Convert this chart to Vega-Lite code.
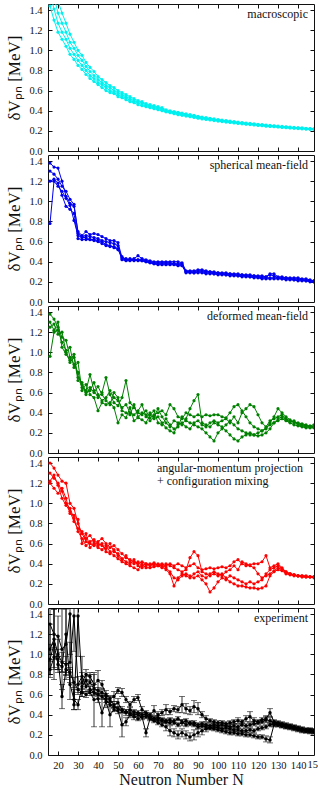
{
"$schema":"https://vega.github.io/schema/vega-lite/v6.json",
"background":"white",
"padding":{"left":5,"top":3,"right":0,"bottom":0},
"spacing":4,
"bounds":"flush",
"config":{"view":{"stroke":"#111","strokeWidth":1},"axis":{"grid":false,"domain":false,"tickSize":-4,"tickColor":"#111","labelColor":"#111","titleColor":"#111","labelFont":"Liberation Serif","titleFont":"Liberation Serif","labelFontSize":10.5,"titleFontSize":17,"titleFontWeight":"normal","labelFlush":false},"text":{"font":"Liberation Serif"}},
"datasets":{
"m":[
{"N":16,"c":1.58,"d":1.44},{"N":18,"b":1.53,"c":1.41,"d":1.30},{"N":20,"a":1.49,"b":1.37,"c":1.27,"d":1.18},{"N":22,"a":1.37,"b":1.27,"c":1.18,"d":1.11},{"N":24,"a":1.27,"b":1.18,"c":1.11,"d":1.04},{"N":26,"a":1.16,"b":1.08,"c":1.02,"d":0.96},{"N":28,"a":1.08,"b":1.02,"c":0.96,"d":0.91},{"N":30,"a":1.00,"b":0.95,"c":0.90,"d":0.85},{"N":32,"a":0.95,"b":0.90,"c":0.85,"d":0.81},{"N":34,"a":0.88,"b":0.84,"c":0.80,"d":0.76},{"N":36,"a":0.83,"b":0.79,"c":0.75,"d":0.72},{"N":38,"a":0.79,"b":0.75,"c":0.72,"d":0.69},{"N":40,"a":0.74,"b":0.71,"c":0.68,"d":0.66},{"N":42,"a":0.71,"b":0.68,"c":0.66,"d":0.63},{"N":44,"a":0.68,"b":0.65,"c":0.63,"d":0.60},{"N":46,"a":0.65,"b":0.63,"c":0.60,"d":0.58},{"N":48,"a":0.63,"b":0.60,"c":0.58,"d":0.57},{"N":50,"a":0.60,"b":0.58,"c":0.56,"d":0.54},{"N":52,"a":0.58,"b":0.56,"c":0.54,"d":0.53},{"N":54,"a":0.56,"b":0.54,"c":0.53,"d":0.51},{"N":56,"a":0.54,"b":0.52,"c":0.50,"d":0.49},{"N":58,"a":0.52,"b":0.50,"c":0.49,"d":0.48},{"N":60,"a":0.50,"b":0.49,"c":0.48,"d":0.46},{"N":62,"a":0.49,"b":0.48,"c":0.46,"d":0.45},{"N":64,"a":0.47,"b":0.46,"c":0.45,"d":0.44},{"N":66,"a":0.46,"b":0.45,"c":0.44,"d":0.43},{"N":68,"a":0.45,"b":0.44,"c":0.43,"d":0.42},{"N":70,"a":0.44,"b":0.43,"c":0.42,"d":0.41},{"N":72,"a":0.43,"b":0.42,"c":0.41,"d":0.40},{"N":74,"a":0.41,"b":0.40,"c":0.39,"d":0.39},{"N":76,"a":0.40,"b":0.39,"c":0.39,"d":0.38},{"N":78,"a":0.39,"b":0.39,"c":0.38,"d":0.37},{"N":80,"a":0.385,"b":0.377,"c":0.369,"d":0.361},{"N":82,"a":0.377,"b":0.369,"c":0.361,"d":0.354},{"N":84,"a":0.369,"b":0.361,"c":0.354,"d":0.347},{"N":86,"a":0.361,"b":0.354,"c":0.347,"d":0.340},{"N":88,"a":0.354,"b":0.347,"c":0.340,"d":0.333},{"N":90,"a":0.344,"b":0.338,"c":0.331,"d":0.325},{"N":92,"a":0.338,"b":0.331,"c":0.325,"d":0.319},{"N":94,"a":0.331,"b":0.325,"c":0.319,"d":0.313},{"N":96,"a":0.325,"b":0.319,"c":0.313,"d":0.308},{"N":98,"a":0.319,"b":0.313,"c":0.308,"d":0.302},{"N":100,"a":0.313,"b":0.308,"c":0.302,"d":0.297},{"N":102,"a":0.308,"b":0.302,"c":0.297,"d":0.292},{"N":104,"a":0.302,"b":0.297,"c":0.292,"d":0.287},{"N":106,"a":0.297,"b":0.292,"c":0.287,"d":0.283},{"N":108,"a":0.292,"b":0.287,"c":0.283,"d":0.278},{"N":110,"a":0.287,"b":0.283,"c":0.278,"d":0.274},{"N":112,"a":0.283,"b":0.278,"c":0.274,"d":0.270},{"N":114,"a":0.278,"b":0.274,"c":0.270,"d":0.266},{"N":116,"a":0.274,"b":0.270,"c":0.266,"d":0.262},{"N":118,"a":0.270,"b":0.266,"c":0.262,"d":0.258},{"N":120,"a":0.266,"b":0.262,"c":0.258,"d":0.254},{"N":122,"a":0.262,"b":0.258,"c":0.254,"d":0.251},{"N":124,"a":0.258,"b":0.254,"c":0.251,"d":0.247},{"N":126,"a":0.254,"b":0.251,"c":0.247,"d":0.244},{"N":128,"a":0.251,"b":0.247,"c":0.244,"d":0.241},{"N":130,"a":0.247,"b":0.244,"c":0.241,"d":0.238},{"N":132,"a":0.244,"b":0.241,"c":0.238,"d":0.234},{"N":134,"a":0.241,"b":0.238,"c":0.234,"d":0.231},{"N":136,"a":0.238,"b":0.234,"c":0.231,"d":0.229},{"N":138,"a":0.234,"b":0.231,"c":0.229,"d":0.226},{"N":140,"a":0.231,"b":0.229,"c":0.226,"d":0.223},{"N":142,"a":0.229,"b":0.226,"c":0.223,"d":0.220},{"N":144,"a":0.226,"b":0.223,"c":0.220,"d":0.218},{"N":146,"a":0.223,"b":0.220,"c":0.218,"d":0.215},{"N":148,"a":0.220,"b":0.218,"c":0.215,"d":0.213}
],
"s":[
{"N":16,"a":1.38,"b":1.30,"c":1.20,"d":0.78},{"N":18,"a":1.34,"b":1.27,"c":1.22,"d":1.20},{"N":20,"a":1.33,"b":1.22,"c":1.18,"d":1.15},{"N":22,"a":1.20,"b":1.15,"c":1.06,"d":1.10},{"N":24,"a":1.05,"b":1.10,"c":0.95,"d":1.03},{"N":26,"a":0.98,"b":1.02,"c":0.92,"d":0.96},{"N":28,"a":0.95,"b":0.97,"c":0.88,"d":0.81},{"N":30,"a":0.70,"b":0.68,"c":0.63,"d":0.66},{"N":32,"a":0.66,"b":0.65,"c":0.62,"d":0.64},{"N":34,"a":0.70,"b":0.66,"c":0.62,"d":0.64},{"N":36,"a":0.67,"b":0.65,"c":0.62,"d":0.62},{"N":38,"a":0.68,"b":0.64,"c":0.61,"d":0.62},{"N":40,"a":0.67,"b":0.63,"c":0.60,"d":0.61},{"N":42,"a":0.65,"b":0.61,"c":0.58,"d":0.60},{"N":44,"a":0.63,"b":0.60,"c":0.56,"d":0.57},{"N":46,"a":0.61,"b":0.59,"c":0.55,"d":0.56},{"N":48,"a":0.61,"b":0.58,"c":0.55,"d":0.54},{"N":50,"a":0.59,"b":0.56,"c":0.53,"d":0.52},{"N":52,"a":0.44,"b":0.43,"c":0.42,"d":0.45},{"N":54,"a":0.43,"b":0.42,"c":0.41,"d":0.42},{"N":56,"a":0.42,"b":0.43,"c":0.41,"d":0.42},{"N":58,"a":0.43,"b":0.42,"c":0.42,"d":0.41},{"N":60,"a":0.46,"b":0.42,"c":0.41,"d":0.42},{"N":62,"a":0.43,"b":0.42,"c":0.41,"d":0.41},{"N":64,"a":0.42,"b":0.41,"c":0.40,"d":0.40},{"N":66,"a":0.41,"b":0.40,"c":0.39,"d":0.39},{"N":68,"a":0.40,"b":0.39,"c":0.38,"d":0.38},{"N":70,"a":0.40,"b":0.39,"c":0.38,"d":0.37},{"N":72,"a":0.40,"b":0.39,"c":0.38,"d":0.37},{"N":74,"a":0.40,"b":0.39,"c":0.38,"d":0.37},{"N":76,"a":0.40,"b":0.39,"c":0.38,"d":0.37},{"N":78,"a":0.40,"b":0.38,"c":0.38,"d":0.37},{"N":80,"a":0.40,"b":0.38,"c":0.37,"d":0.36},{"N":82,"a":0.39,"b":0.38,"c":0.37,"d":0.36},{"N":84,"a":0.31,"b":0.30,"c":0.30,"d":0.29},{"N":86,"a":0.31,"b":0.30,"c":0.30,"d":0.29},{"N":88,"a":0.31,"b":0.30,"c":0.29,"d":0.29},{"N":90,"a":0.32,"b":0.31,"c":0.30,"d":0.29},{"N":92,"a":0.32,"b":0.31,"c":0.30,"d":0.29},{"N":94,"a":0.31,"b":0.30,"c":0.29,"d":0.28},{"N":96,"a":0.30,"b":0.30,"c":0.29,"d":0.28},{"N":98,"a":0.30,"b":0.29,"c":0.28,"d":0.28},{"N":100,"a":0.29,"b":0.29,"c":0.28,"d":0.27},{"N":102,"a":0.29,"b":0.28,"c":0.28,"d":0.27},{"N":104,"a":0.29,"b":0.28,"c":0.27,"d":0.27},{"N":106,"a":0.28,"b":0.28,"c":0.27,"d":0.26},{"N":108,"a":0.28,"b":0.27,"c":0.27,"d":0.26},{"N":110,"a":0.28,"b":0.27,"c":0.26,"d":0.26},{"N":112,"a":0.27,"b":0.27,"c":0.26,"d":0.25},{"N":114,"a":0.27,"b":0.26,"c":0.26,"d":0.25},{"N":116,"a":0.27,"b":0.26,"c":0.25,"d":0.25},{"N":118,"a":0.26,"b":0.26,"c":0.25,"d":0.24},{"N":120,"a":0.26,"b":0.25,"c":0.25,"d":0.24},{"N":122,"a":0.26,"b":0.25,"c":0.24,"d":0.23},{"N":124,"a":0.25,"b":0.25,"c":0.24,"d":0.23},{"N":126,"a":0.28,"b":0.27,"c":0.24,"d":0.23},{"N":128,"a":0.28,"b":0.26,"c":0.24,"d":0.23},{"N":130,"a":0.25,"b":0.24,"c":0.24,"d":0.23},{"N":132,"a":0.25,"b":0.24,"c":0.23,"d":0.23},{"N":134,"a":0.24,"b":0.24,"c":0.23,"d":0.22},{"N":136,"a":0.24,"b":0.23,"c":0.23,"d":0.22},{"N":138,"a":0.24,"b":0.23,"c":0.22,"d":0.22},{"N":140,"a":0.24,"b":0.23,"c":0.22,"d":0.21},{"N":142,"a":0.23,"b":0.22,"c":0.22,"d":0.21},{"N":144,"a":0.23,"b":0.22,"c":0.21,"d":0.21},{"N":146,"a":0.22,"b":0.21,"c":0.21,"d":0.20},{"N":148,"a":0.21,"b":0.21,"c":0.20,"d":0.20}
],
"g":[
{"N":16,"a":1.38,"b":1.30,"c":1.25,"d":0.96},{"N":18,"a":1.33,"b":1.22,"c":1.28,"d":1.20},{"N":20,"a":1.25,"b":1.30,"c":1.18,"d":1.22},{"N":22,"a":1.15,"b":1.05,"c":1.20,"d":1.10},{"N":24,"a":1.12,"b":0.98,"c":1.00,"d":1.02},{"N":26,"a":0.95,"b":0.92,"c":1.05,"d":0.90},{"N":28,"a":0.88,"b":0.98,"c":0.85,"d":0.95},{"N":30,"a":0.80,"b":0.75,"c":0.90,"d":0.72},{"N":32,"a":0.65,"b":0.70,"c":0.62,"d":0.68},{"N":34,"a":0.62,"b":0.60,"c":0.68,"d":0.58},{"N":36,"a":0.78,"b":0.62,"c":0.58,"d":0.65},{"N":38,"a":0.62,"b":0.70,"c":0.55,"d":0.60},{"N":40,"a":0.55,"b":0.58,"c":0.42,"d":0.66},{"N":42,"a":0.60,"b":0.52,"c":0.50,"d":0.58},{"N":44,"a":0.75,"b":0.55,"c":0.48,"d":0.52},{"N":46,"a":0.58,"b":0.62,"c":0.50,"d":0.48},{"N":48,"a":0.50,"b":0.55,"c":0.45,"d":0.60},{"N":50,"a":0.47,"b":0.52,"c":0.30,"d":0.55},{"N":52,"a":0.55,"b":0.45,"c":0.38,"d":0.42},{"N":54,"a":0.72,"b":0.48,"c":0.35,"d":0.40},{"N":56,"a":0.50,"b":0.40,"c":0.45,"d":0.38},{"N":58,"a":0.45,"b":0.38,"c":0.32,"d":0.48},{"N":60,"a":0.40,"b":0.42,"c":0.35,"d":0.36},{"N":62,"a":0.38,"b":0.48,"c":0.33,"d":0.40},{"N":64,"a":0.42,"b":0.36,"c":0.30,"d":0.38},{"N":66,"a":0.35,"b":0.40,"c":0.38,"d":0.32},{"N":68,"a":0.38,"b":0.34,"c":0.42,"d":0.36},{"N":70,"a":0.40,"b":0.36,"c":0.30,"d":0.44},{"N":72,"a":0.42,"b":0.30,"c":0.28,"d":0.36},{"N":74,"a":0.38,"b":0.25,"c":0.34,"d":0.30},{"N":76,"a":0.48,"b":0.22,"c":0.28,"d":0.26},{"N":78,"a":0.44,"b":0.20,"c":0.24,"d":0.32},{"N":80,"a":0.36,"b":0.28,"c":0.26,"d":0.30},{"N":82,"a":0.34,"b":0.30,"c":0.36,"d":0.28},{"N":84,"a":0.40,"b":0.26,"c":0.32,"d":0.34},{"N":86,"a":0.38,"b":0.24,"c":0.30,"d":0.44},{"N":88,"a":0.36,"b":0.30,"c":0.28,"d":0.52},{"N":90,"a":0.38,"b":0.32,"c":0.26,"d":0.58},{"N":92,"a":0.36,"b":0.28,"c":0.24,"d":0.30},{"N":94,"a":0.38,"b":0.26,"c":0.20,"d":0.28},{"N":96,"a":0.37,"b":0.30,"c":0.16,"d":0.26},{"N":98,"a":0.38,"b":0.32,"c":0.12,"d":0.30},{"N":100,"a":0.38,"b":0.30,"c":0.20,"d":0.28},{"N":102,"a":0.36,"b":0.32,"c":0.24,"d":0.26},{"N":104,"a":0.35,"b":0.34,"c":0.28,"d":0.22},{"N":106,"a":0.40,"b":0.30,"c":0.32,"d":0.18},{"N":108,"a":0.46,"b":0.36,"c":0.28,"d":0.14},{"N":110,"a":0.48,"b":0.30,"c":0.24,"d":0.12},{"N":112,"a":0.42,"b":0.40,"c":0.22,"d":0.16},{"N":114,"a":0.36,"b":0.44,"c":0.20,"d":0.18},{"N":116,"a":0.30,"b":0.48,"c":0.18,"d":0.20},{"N":118,"a":0.26,"b":0.46,"c":0.18,"d":0.18},{"N":120,"a":0.24,"b":0.38,"c":0.20,"d":0.17},{"N":122,"a":0.22,"b":0.30,"c":0.22,"d":0.18},{"N":124,"a":0.24,"b":0.26,"c":0.25,"d":0.20},{"N":126,"a":0.30,"b":0.32,"c":0.28,"d":0.24},{"N":128,"a":0.36,"b":0.34,"c":0.30,"d":0.30},{"N":130,"a":0.44,"b":0.36,"c":0.32,"d":0.34},{"N":132,"a":0.40,"b":0.38,"c":0.34,"d":0.36},{"N":134,"a":0.36,"b":0.34,"c":0.32,"d":0.33},{"N":136,"a":0.33,"b":0.32,"c":0.30,"d":0.31},{"N":138,"a":0.30,"b":0.31,"c":0.28,"d":0.32},{"N":140,"a":0.29,"b":0.30,"c":0.27,"d":0.28},{"N":142,"a":0.28,"b":0.29,"c":0.26,"d":0.27},{"N":144,"a":0.27,"b":0.28,"c":0.25,"d":0.26},{"N":146,"a":0.27,"b":0.26,"c":0.25,"d":0.26},{"N":148,"a":0.28,"b":0.26,"c":0.25,"d":0.26}
],
"r":[
{"N":16,"a":1.40,"b":1.30,"c":1.20,"d":1.22},{"N":18,"a":1.35,"b":1.25,"c":1.15,"d":1.28},{"N":20,"a":1.28,"b":1.20,"c":1.10,"d":1.18},{"N":22,"a":1.22,"b":1.12,"c":1.15,"d":1.05},{"N":24,"a":1.20,"b":1.00,"c":1.05,"d":0.98},{"N":26,"a":1.00,"b":0.95,"c":0.90,"d":0.92},{"N":28,"a":0.95,"b":0.85,"c":0.88,"d":0.82},{"N":30,"a":0.80,"b":0.72,"c":0.84,"d":0.75},{"N":32,"a":0.70,"b":0.65,"c":0.60,"d":0.72},{"N":34,"a":0.62,"b":0.58,"c":0.70,"d":0.65},{"N":36,"a":0.60,"b":0.62,"c":0.56,"d":0.68},{"N":38,"a":0.58,"b":0.64,"c":0.60,"d":0.62},{"N":40,"a":0.62,"b":0.60,"c":0.56,"d":0.58},{"N":42,"a":0.65,"b":0.58,"c":0.54,"d":0.60},{"N":44,"a":0.60,"b":0.55,"c":0.58,"d":0.52},{"N":46,"a":0.56,"b":0.60,"c":0.52,"d":0.50},{"N":48,"a":0.58,"b":0.52,"c":0.48,"d":0.54},{"N":50,"a":0.54,"b":0.50,"c":0.45,"d":0.48},{"N":52,"a":0.50,"b":0.45,"c":0.42,"d":0.44},{"N":54,"a":0.46,"b":0.42,"c":0.40,"d":0.48},{"N":56,"a":0.44,"b":0.40,"c":0.38,"d":0.42},{"N":58,"a":0.42,"b":0.44,"c":0.36,"d":0.40},{"N":60,"a":0.40,"b":0.38,"c":0.34,"d":0.42},{"N":62,"a":0.42,"b":0.36,"c":0.40,"d":0.38},{"N":64,"a":0.40,"b":0.38,"c":0.36,"d":0.40},{"N":66,"a":0.38,"b":0.40,"c":0.36,"d":0.39},{"N":68,"a":0.40,"b":0.38,"c":0.37,"d":0.41},{"N":70,"a":0.39,"b":0.40,"c":0.38,"d":0.38},{"N":72,"a":0.40,"b":0.37,"c":0.39,"d":0.36},{"N":74,"a":0.38,"b":0.34,"c":0.36,"d":0.40},{"N":76,"a":0.40,"b":0.30,"c":0.32,"d":0.38},{"N":78,"a":0.38,"b":0.18,"c":0.26,"d":0.36},{"N":80,"a":0.40,"b":0.26,"c":0.24,"d":0.34},{"N":82,"a":0.38,"b":0.30,"c":0.28,"d":0.32},{"N":84,"a":0.36,"b":0.28,"c":0.30,"d":0.34},{"N":86,"a":0.38,"b":0.26,"c":0.28,"d":0.46},{"N":88,"a":0.40,"b":0.30,"c":0.26,"d":0.52},{"N":90,"a":0.36,"b":0.32,"c":0.28,"d":0.48},{"N":92,"a":0.34,"b":0.28,"c":0.24,"d":0.32},{"N":94,"a":0.35,"b":0.26,"c":0.20,"d":0.30},{"N":96,"a":0.36,"b":0.30,"c":0.12,"d":0.28},{"N":98,"a":0.35,"b":0.32,"c":0.16,"d":0.30},{"N":100,"a":0.36,"b":0.30,"c":0.22,"d":0.28},{"N":102,"a":0.37,"b":0.28,"c":0.26,"d":0.30},{"N":104,"a":0.36,"b":0.32,"c":0.24,"d":0.26},{"N":106,"a":0.38,"b":0.34,"c":0.28,"d":0.22},{"N":108,"a":0.42,"b":0.38,"c":0.26,"d":0.20},{"N":110,"a":0.44,"b":0.34,"c":0.24,"d":0.18},{"N":112,"a":0.40,"b":0.42,"c":0.22,"d":0.18},{"N":114,"a":0.38,"b":0.40,"c":0.20,"d":0.17},{"N":116,"a":0.39,"b":0.38,"c":0.22,"d":0.16},{"N":118,"a":0.40,"b":0.36,"c":0.20,"d":0.16},{"N":120,"a":0.40,"b":0.30,"c":0.22,"d":0.15},{"N":122,"a":0.42,"b":0.26,"c":0.24,"d":0.16},{"N":124,"a":0.48,"b":0.28,"c":0.30,"d":0.18},{"N":126,"a":0.36,"b":0.30,"c":0.34,"d":0.28},{"N":128,"a":0.38,"b":0.33,"c":0.36,"d":0.32},{"N":130,"a":0.40,"b":0.36,"c":0.38,"d":0.34},{"N":132,"a":0.36,"b":0.34,"c":0.35,"d":0.33},{"N":134,"a":0.32,"b":0.31,"c":0.32,"d":0.30},{"N":136,"a":0.30,"b":0.30,"c":0.30,"d":0.29},{"N":138,"a":0.29,"b":0.29,"c":0.29,"d":0.28},{"N":140,"a":0.28,"b":0.28,"c":0.28,"d":0.28},{"N":142,"a":0.28,"b":0.28,"c":0.27,"d":0.27},{"N":144,"a":0.28,"b":0.27,"c":0.27,"d":0.27},{"N":146,"a":0.27,"b":0.27,"c":0.27,"d":0.27},{"N":148,"a":0.27,"b":0.27,"c":0.27,"d":0.26}
],
"x":[
{"N":16,"s":"a","v":1.30,"e":0.30},{"N":18,"s":"a","v":1.20,"e":0.25},{"N":20,"s":"a","v":1.18,"e":0.20},{"N":22,"s":"a","v":1.05,"e":0.40},{"N":24,"s":"a","v":1.10,"e":0.35},{"N":26,"s":"a","v":1.40,"e":0.40},{"N":28,"s":"a","v":0.50,"e":0.05},{"N":30,"s":"a","v":1.38,"e":0.40},{"N":32,"s":"a","v":0.72,"e":0.10},{"N":34,"s":"a","v":0.80,"e":0.05},{"N":36,"s":"a","v":0.78,"e":0.04},{"N":38,"s":"a","v":0.70,"e":0.10},{"N":40,"s":"a","v":0.74,"e":0.10},{"N":42,"s":"a","v":0.70,"e":0.04},{"N":44,"s":"a","v":0.60,"e":0.04},{"N":46,"s":"a","v":0.56,"e":0.03},{"N":48,"s":"a","v":0.58,"e":0.05},{"N":50,"s":"a","v":0.64,"e":0.03},{"N":52,"s":"a","v":0.62,"e":0.04},{"N":54,"s":"a","v":0.55,"e":0.03},{"N":56,"s":"a","v":0.50,"e":0.03},{"N":58,"s":"a","v":0.55,"e":0.03},{"N":60,"s":"a","v":0.57,"e":0.03},{"N":62,"s":"a","v":0.45,"e":0.03},{"N":64,"s":"a","v":0.42,"e":0.02},{"N":66,"s":"a","v":0.40,"e":0.02},{"N":68,"s":"a","v":0.44,"e":0.05},{"N":70,"s":"a","v":0.40,"e":0.03},{"N":72,"s":"a","v":0.42,"e":0.03},{"N":74,"s":"a","v":0.45,"e":0.05},{"N":76,"s":"a","v":0.43,"e":0.03},{"N":78,"s":"a","v":0.46,"e":0.03},{"N":80,"s":"a","v":0.45,"e":0.03},{"N":82,"s":"a","v":0.50,"e":0.08},{"N":84,"s":"a","v":0.46,"e":0.05},{"N":86,"s":"a","v":0.44,"e":0.04},{"N":88,"s":"a","v":0.48,"e":0.06},{"N":90,"s":"a","v":0.46,"e":0.06},{"N":92,"s":"a","v":0.40,"e":0.03},{"N":94,"s":"a","v":0.36,"e":0.03},{"N":96,"s":"a","v":0.34,"e":0.02},{"N":98,"s":"a","v":0.33,"e":0.02},{"N":100,"s":"a","v":0.32,"e":0.02},{"N":102,"s":"a","v":0.32,"e":0.02},{"N":104,"s":"a","v":0.31,"e":0.02},{"N":106,"s":"a","v":0.32,"e":0.02},{"N":108,"s":"a","v":0.33,"e":0.02},{"N":110,"s":"a","v":0.34,"e":0.03},{"N":112,"s":"a","v":0.33,"e":0.02},{"N":114,"s":"a","v":0.36,"e":0.03},{"N":116,"s":"a","v":0.38,"e":0.05},{"N":118,"s":"a","v":0.34,"e":0.03},{"N":120,"s":"a","v":0.33,"e":0.02},{"N":122,"s":"a","v":0.35,"e":0.02},{"N":124,"s":"a","v":0.36,"e":0.03},{"N":126,"s":"a","v":0.42,"e":0.04},{"N":128,"s":"a","v":0.33,"e":0.02},{"N":130,"s":"a","v":0.32,"e":0.02},{"N":132,"s":"a","v":0.31,"e":0.02},{"N":134,"s":"a","v":0.30,"e":0.02},{"N":136,"s":"a","v":0.29,"e":0.02},{"N":138,"s":"a","v":0.28,"e":0.02},{"N":140,"s":"a","v":0.27,"e":0.02},{"N":142,"s":"a","v":0.26,"e":0.02},{"N":144,"s":"a","v":0.25,"e":0.02},{"N":146,"s":"a","v":0.25,"e":0.02},{"N":148,"s":"a","v":0.24,"e":0.02},
{"N":16,"s":"b","v":1.05,"e":0.25},{"N":18,"s":"b","v":1.15,"e":0.30},{"N":20,"s":"b","v":1.00,"e":0.15},{"N":22,"s":"b","v":0.92,"e":0.10},{"N":24,"s":"b","v":0.90,"e":0.08},{"N":26,"s":"b","v":0.92,"e":0.20},{"N":28,"s":"b","v":1.38,"e":0.35},{"N":30,"s":"b","v":0.70,"e":0.08},{"N":32,"s":"b","v":0.78,"e":0.20},{"N":34,"s":"b","v":0.68,"e":0.05},{"N":36,"s":"b","v":0.72,"e":0.08},{"N":38,"s":"b","v":0.66,"e":0.04},{"N":40,"s":"b","v":0.64,"e":0.03},{"N":42,"s":"b","v":0.62,"e":0.03},{"N":44,"s":"b","v":0.58,"e":0.03},{"N":46,"s":"b","v":0.54,"e":0.04},{"N":48,"s":"b","v":0.50,"e":0.03},{"N":50,"s":"b","v":0.52,"e":0.04},{"N":52,"s":"b","v":0.45,"e":0.03},{"N":54,"s":"b","v":0.42,"e":0.03},{"N":56,"s":"b","v":0.45,"e":0.03},{"N":58,"s":"b","v":0.43,"e":0.02},{"N":60,"s":"b","v":0.42,"e":0.02},{"N":62,"s":"b","v":0.40,"e":0.02},{"N":64,"s":"b","v":0.40,"e":0.02},{"N":66,"s":"b","v":0.38,"e":0.02},{"N":68,"s":"b","v":0.36,"e":0.02},{"N":70,"s":"b","v":0.37,"e":0.02},{"N":72,"s":"b","v":0.35,"e":0.02},{"N":74,"s":"b","v":0.34,"e":0.02},{"N":76,"s":"b","v":0.35,"e":0.02},{"N":78,"s":"b","v":0.32,"e":0.02},{"N":80,"s":"b","v":0.30,"e":0.02},{"N":82,"s":"b","v":0.32,"e":0.03},{"N":84,"s":"b","v":0.34,"e":0.02},{"N":86,"s":"b","v":0.31,"e":0.02},{"N":88,"s":"b","v":0.32,"e":0.02},{"N":90,"s":"b","v":0.30,"e":0.02},{"N":92,"s":"b","v":0.31,"e":0.02},{"N":94,"s":"b","v":0.30,"e":0.02},{"N":96,"s":"b","v":0.29,"e":0.02},{"N":98,"s":"b","v":0.30,"e":0.02},{"N":100,"s":"b","v":0.29,"e":0.02},{"N":102,"s":"b","v":0.30,"e":0.02},{"N":104,"s":"b","v":0.29,"e":0.02},{"N":106,"s":"b","v":0.28,"e":0.02},{"N":108,"s":"b","v":0.29,"e":0.02},{"N":110,"s":"b","v":0.28,"e":0.02},{"N":112,"s":"b","v":0.30,"e":0.02},{"N":114,"s":"b","v":0.29,"e":0.02},{"N":116,"s":"b","v":0.30,"e":0.02},{"N":118,"s":"b","v":0.31,"e":0.02},{"N":120,"s":"b","v":0.32,"e":0.02},{"N":122,"s":"b","v":0.33,"e":0.02},{"N":124,"s":"b","v":0.35,"e":0.03},{"N":126,"s":"b","v":0.34,"e":0.03},{"N":128,"s":"b","v":0.32,"e":0.02},{"N":130,"s":"b","v":0.31,"e":0.02},{"N":132,"s":"b","v":0.30,"e":0.02},{"N":134,"s":"b","v":0.29,"e":0.02},{"N":136,"s":"b","v":0.28,"e":0.02},{"N":138,"s":"b","v":0.27,"e":0.02},{"N":140,"s":"b","v":0.26,"e":0.02},{"N":142,"s":"b","v":0.25,"e":0.02},{"N":144,"s":"b","v":0.24,"e":0.02},{"N":146,"s":"b","v":0.24,"e":0.02},{"N":148,"s":"b","v":0.24,"e":0.02},
{"N":16,"s":"c","v":0.85,"e":0.08},{"N":18,"s":"c","v":0.97,"e":0.10},{"N":20,"s":"c","v":0.95,"e":0.10},{"N":22,"s":"c","v":0.58,"e":0.12},{"N":24,"s":"c","v":0.85,"e":0.06},{"N":26,"s":"c","v":0.82,"e":0.05},{"N":28,"s":"c","v":0.72,"e":0.05},{"N":30,"s":"c","v":0.65,"e":0.05},{"N":32,"s":"c","v":0.62,"e":0.04},{"N":34,"s":"c","v":0.60,"e":0.03},{"N":36,"s":"c","v":0.62,"e":0.03},{"N":38,"s":"c","v":0.55,"e":0.27},{"N":40,"s":"c","v":0.56,"e":0.04},{"N":42,"s":"c","v":0.42,"e":0.14},{"N":44,"s":"c","v":0.53,"e":0.06},{"N":46,"s":"c","v":0.40,"e":0.12},{"N":48,"s":"c","v":0.45,"e":0.02},{"N":50,"s":"c","v":0.44,"e":0.03},{"N":52,"s":"c","v":0.30,"e":0.12},{"N":54,"s":"c","v":0.33,"e":0.04},{"N":56,"s":"c","v":0.40,"e":0.03},{"N":58,"s":"c","v":0.38,"e":0.03},{"N":60,"s":"c","v":0.36,"e":0.02},{"N":62,"s":"c","v":0.38,"e":0.03},{"N":64,"s":"c","v":0.22,"e":0.04},{"N":66,"s":"c","v":0.36,"e":0.02},{"N":68,"s":"c","v":0.34,"e":0.02},{"N":70,"s":"c","v":0.32,"e":0.02},{"N":72,"s":"c","v":0.30,"e":0.02},{"N":74,"s":"c","v":0.28,"e":0.04},{"N":76,"s":"c","v":0.24,"e":0.05},{"N":78,"s":"c","v":0.22,"e":0.04},{"N":80,"s":"c","v":0.20,"e":0.04},{"N":82,"s":"c","v":0.22,"e":0.04},{"N":84,"s":"c","v":0.20,"e":0.04},{"N":86,"s":"c","v":0.18,"e":0.04},{"N":88,"s":"c","v":0.20,"e":0.05},{"N":90,"s":"c","v":0.22,"e":0.04},{"N":92,"s":"c","v":0.24,"e":0.04},{"N":94,"s":"c","v":0.26,"e":0.03},{"N":96,"s":"c","v":0.27,"e":0.02},{"N":98,"s":"c","v":0.26,"e":0.02},{"N":100,"s":"c","v":0.25,"e":0.02},{"N":102,"s":"c","v":0.24,"e":0.02},{"N":104,"s":"c","v":0.23,"e":0.02},{"N":106,"s":"c","v":0.22,"e":0.02},{"N":108,"s":"c","v":0.22,"e":0.02},{"N":110,"s":"c","v":0.21,"e":0.02},{"N":112,"s":"c","v":0.21,"e":0.02},{"N":114,"s":"c","v":0.20,"e":0.02},{"N":116,"s":"c","v":0.20,"e":0.02},{"N":118,"s":"c","v":0.19,"e":0.02},{"N":120,"s":"c","v":0.18,"e":0.02},{"N":122,"s":"c","v":0.18,"e":0.02},{"N":124,"s":"c","v":0.16,"e":0.03},{"N":126,"s":"c","v":0.15,"e":0.03},{"N":128,"s":"c","v":0.30,"e":0.02},{"N":130,"s":"c","v":0.30,"e":0.02},{"N":132,"s":"c","v":0.29,"e":0.02},{"N":134,"s":"c","v":0.28,"e":0.02},{"N":136,"s":"c","v":0.27,"e":0.02},{"N":138,"s":"c","v":0.26,"e":0.02},{"N":140,"s":"c","v":0.25,"e":0.02},{"N":142,"s":"c","v":0.24,"e":0.02},{"N":144,"s":"c","v":0.24,"e":0.02},{"N":146,"s":"c","v":0.23,"e":0.02},{"N":148,"s":"c","v":0.23,"e":0.02},
{"N":16,"s":"d","v":0.95,"e":0.15},{"N":18,"s":"d","v":1.10,"e":0.35},{"N":20,"s":"d","v":0.90,"e":0.08},{"N":22,"s":"d","v":0.88,"e":0.05},{"N":24,"s":"d","v":1.20,"e":0.40},{"N":26,"s":"d","v":0.70,"e":0.15},{"N":28,"s":"d","v":0.55,"e":0.10},{"N":30,"s":"d","v":0.50,"e":0.05},{"N":32,"s":"d","v":0.68,"e":0.03},{"N":34,"s":"d","v":0.74,"e":0.04},{"N":36,"s":"d","v":0.65,"e":0.03},{"N":38,"s":"d","v":0.62,"e":0.03},{"N":40,"s":"d","v":0.60,"e":0.02},{"N":42,"s":"d","v":0.58,"e":0.03},{"N":44,"s":"d","v":0.55,"e":0.03},{"N":46,"s":"d","v":0.50,"e":0.02},{"N":48,"s":"d","v":0.48,"e":0.02},{"N":50,"s":"d","v":0.46,"e":0.02},{"N":52,"s":"d","v":0.44,"e":0.02},{"N":54,"s":"d","v":0.43,"e":0.02},{"N":56,"s":"d","v":0.41,"e":0.02},{"N":58,"s":"d","v":0.40,"e":0.02},{"N":60,"s":"d","v":0.40,"e":0.02},{"N":62,"s":"d","v":0.38,"e":0.02},{"N":64,"s":"d","v":0.38,"e":0.02},{"N":66,"s":"d","v":0.37,"e":0.02},{"N":68,"s":"d","v":0.36,"e":0.02},{"N":70,"s":"d","v":0.35,"e":0.02},{"N":72,"s":"d","v":0.34,"e":0.02},{"N":74,"s":"d","v":0.33,"e":0.02},{"N":76,"s":"d","v":0.32,"e":0.02},{"N":78,"s":"d","v":0.34,"e":0.02},{"N":80,"s":"d","v":0.36,"e":0.02},{"N":82,"s":"d","v":0.33,"e":0.02},{"N":84,"s":"d","v":0.30,"e":0.02},{"N":86,"s":"d","v":0.32,"e":0.02},{"N":88,"s":"d","v":0.30,"e":0.02},{"N":90,"s":"d","v":0.28,"e":0.02},{"N":92,"s":"d","v":0.29,"e":0.02},{"N":94,"s":"d","v":0.28,"e":0.02},{"N":96,"s":"d","v":0.27,"e":0.02},{"N":98,"s":"d","v":0.28,"e":0.02},{"N":100,"s":"d","v":0.27,"e":0.02},{"N":102,"s":"d","v":0.26,"e":0.02},{"N":104,"s":"d","v":0.27,"e":0.02},{"N":106,"s":"d","v":0.26,"e":0.02},{"N":108,"s":"d","v":0.25,"e":0.02},{"N":110,"s":"d","v":0.25,"e":0.02},{"N":112,"s":"d","v":0.24,"e":0.02},{"N":114,"s":"d","v":0.24,"e":0.02},{"N":116,"s":"d","v":0.25,"e":0.02},{"N":118,"s":"d","v":0.24,"e":0.02},{"N":120,"s":"d","v":0.26,"e":0.02},{"N":122,"s":"d","v":0.27,"e":0.02},{"N":124,"s":"d","v":0.28,"e":0.02},{"N":126,"s":"d","v":0.30,"e":0.02},{"N":128,"s":"d","v":0.31,"e":0.02},{"N":130,"s":"d","v":0.30,"e":0.02},{"N":132,"s":"d","v":0.29,"e":0.02},{"N":134,"s":"d","v":0.28,"e":0.02},{"N":136,"s":"d","v":0.28,"e":0.02},{"N":138,"s":"d","v":0.27,"e":0.02},{"N":140,"s":"d","v":0.26,"e":0.02},{"N":142,"s":"d","v":0.25,"e":0.02},{"N":144,"s":"d","v":0.24,"e":0.02},{"N":146,"s":"d","v":0.24,"e":0.02},{"N":148,"s":"d","v":0.23,"e":0.02}
]
},
"vconcat":[
{"width":266,"height":147,"layer":[
 {"data":{"name":"m"},"transform":[{"fold":["a","b","c","d"],"as":["s","v"]},{"filter":"isValid(datum.v)"}],"mark":{"type":"line","color":"#00f0f0","strokeWidth":1,"clip":true},
  "encoding":{"x":{"field":"N","type":"quantitative","scale":{"domain":[15,148],"nice":false,"zero":false},"axis":{"orient":"bottom","values":[20,30,40,50,60,70,80,90,100,110,120,130,140],"labels":false,"title":null}},
   "y":{"field":"v","type":"quantitative","scale":{"domain":[0,1.46],"nice":false,"zero":false},"axis":{"orient":"left","values":[0,0.2,0.4,0.6,0.8,1.0,1.2,1.4],"format":".1f","title":"δVₚₙ [MeV]","labelPadding":10,"titlePadding":5}},
   "detail":{"field":"s"}}},
 {"data":{"name":"m"},"transform":[{"fold":["a","b","c","d"],"as":["s","v"]},{"filter":"isValid(datum.v)"}],"mark":{"type":"point","filled":true,"color":"#00f0f0","size":10,"opacity":1,"clip":true},
  "encoding":{"x":{"field":"N","type":"quantitative","axis":{"orient":"top","values":[20,30,40,50,60,70,80,90,100,110,120,130,140],"labels":false,"title":null}},
   "y":{"field":"v","type":"quantitative","axis":{"orient":"right","values":[0.2,0.4,0.6,0.8,1.0,1.2,1.4],"labels":false,"title":null}}}},
 {"data":{"values":[{"t":"macroscopic"}]},"mark":{"type":"text","align":"right","baseline":"top","fontSize":12,"color":"#111"},
  "encoding":{"x":{"datum":145,"type":"quantitative","axis":null},"y":{"datum":1.41,"type":"quantitative","axis":null},"text":{"field":"t"}}}
],"resolve":{"axis":{"x":"independent","y":"independent"}}},
{"width":266,"height":147,"layer":[
 {"data":{"name":"s"},"transform":[{"fold":["a","b","c","d"],"as":["s","v"]},{"filter":"isValid(datum.v)"}],"mark":{"type":"line","color":"#0000f0","strokeWidth":1,"clip":true},
  "encoding":{"x":{"field":"N","type":"quantitative","scale":{"domain":[15,148],"nice":false,"zero":false},"axis":{"orient":"bottom","values":[20,30,40,50,60,70,80,90,100,110,120,130,140],"labels":false,"title":null}},
   "y":{"field":"v","type":"quantitative","scale":{"domain":[0,1.46],"nice":false,"zero":false},"axis":{"orient":"left","values":[0,0.2,0.4,0.6,0.8,1.0,1.2,1.4],"format":".1f","title":"δVₚₙ [MeV]","labelPadding":10,"titlePadding":5}},
   "detail":{"field":"s"}}},
 {"data":{"name":"s"},"transform":[{"fold":["a","b","c","d"],"as":["s","v"]},{"filter":"isValid(datum.v)"}],"mark":{"type":"point","filled":true,"color":"#0000f0","size":10,"opacity":1,"clip":true},
  "encoding":{"x":{"field":"N","type":"quantitative","axis":{"orient":"top","values":[20,30,40,50,60,70,80,90,100,110,120,130,140],"labels":false,"title":null}},
   "y":{"field":"v","type":"quantitative","axis":{"orient":"right","values":[0.2,0.4,0.6,0.8,1.0,1.2,1.4],"labels":false,"title":null}}}},
 {"data":{"values":[{"t":"spherical mean-field"}]},"mark":{"type":"text","align":"right","baseline":"top","fontSize":12,"color":"#111"},
  "encoding":{"x":{"datum":145,"type":"quantitative","axis":null},"y":{"datum":1.41,"type":"quantitative","axis":null},"text":{"field":"t"}}}
],"resolve":{"axis":{"x":"independent","y":"independent"}}},
{"width":266,"height":147,"layer":[
 {"data":{"name":"g"},"transform":[{"fold":["a","b","c","d"],"as":["s","v"]},{"filter":"isValid(datum.v)"}],"mark":{"type":"line","color":"#008000","strokeWidth":1,"clip":true},
  "encoding":{"x":{"field":"N","type":"quantitative","scale":{"domain":[15,148],"nice":false,"zero":false},"axis":{"orient":"bottom","values":[20,30,40,50,60,70,80,90,100,110,120,130,140],"labels":false,"title":null}},
   "y":{"field":"v","type":"quantitative","scale":{"domain":[0,1.46],"nice":false,"zero":false},"axis":{"orient":"left","values":[0,0.2,0.4,0.6,0.8,1.0,1.2,1.4],"format":".1f","title":"δVₚₙ [MeV]","labelPadding":10,"titlePadding":5}},
   "detail":{"field":"s"}}},
 {"data":{"name":"g"},"transform":[{"fold":["a","b","c","d"],"as":["s","v"]},{"filter":"isValid(datum.v)"}],"mark":{"type":"point","filled":true,"color":"#008000","size":10,"opacity":1,"clip":true},
  "encoding":{"x":{"field":"N","type":"quantitative","axis":{"orient":"top","values":[20,30,40,50,60,70,80,90,100,110,120,130,140],"labels":false,"title":null}},
   "y":{"field":"v","type":"quantitative","axis":{"orient":"right","values":[0.2,0.4,0.6,0.8,1.0,1.2,1.4],"labels":false,"title":null}}}},
 {"data":{"values":[{"t":"deformed mean-field"}]},"mark":{"type":"text","align":"right","baseline":"top","fontSize":12,"color":"#111"},
  "encoding":{"x":{"datum":145,"type":"quantitative","axis":null},"y":{"datum":1.41,"type":"quantitative","axis":null},"text":{"field":"t"}}}
],"resolve":{"axis":{"x":"independent","y":"independent"}}},
{"width":266,"height":147,"layer":[
 {"data":{"name":"r"},"transform":[{"fold":["a","b","c","d"],"as":["s","v"]},{"filter":"isValid(datum.v)"}],"mark":{"type":"line","color":"#ff0000","strokeWidth":1,"clip":true},
  "encoding":{"x":{"field":"N","type":"quantitative","scale":{"domain":[15,148],"nice":false,"zero":false},"axis":{"orient":"bottom","values":[20,30,40,50,60,70,80,90,100,110,120,130,140],"labels":false,"title":null}},
   "y":{"field":"v","type":"quantitative","scale":{"domain":[0,1.46],"nice":false,"zero":false},"axis":{"orient":"left","values":[0,0.2,0.4,0.6,0.8,1.0,1.2,1.4],"format":".1f","title":"δVₚₙ [MeV]","labelPadding":10,"titlePadding":5}},
   "detail":{"field":"s"}}},
 {"data":{"name":"r"},"transform":[{"fold":["a","b","c","d"],"as":["s","v"]},{"filter":"isValid(datum.v)"}],"mark":{"type":"point","filled":true,"color":"#ff0000","size":10,"opacity":1,"clip":true},
  "encoding":{"x":{"field":"N","type":"quantitative","axis":{"orient":"top","values":[20,30,40,50,60,70,80,90,100,110,120,130,140],"labels":false,"title":null}},
   "y":{"field":"v","type":"quantitative","axis":{"orient":"right","values":[0.2,0.4,0.6,0.8,1.0,1.2,1.4],"labels":false,"title":null}}}},
 {"data":{"values":[{"t":["angular-momentum projection","+ configuration mixing"]}]},"mark":{"type":"text","align":"left","baseline":"top","fontSize":12,"lineHeight":13,"color":"#111"},
  "encoding":{"x":{"datum":69.5,"type":"quantitative","axis":null},"y":{"datum":1.40,"type":"quantitative","axis":null},"text":{"field":"t"}}}
],"resolve":{"axis":{"x":"independent","y":"independent"}}},
{"width":266,"height":147,"layer":[
 {"data":{"name":"x"},"mark":{"type":"line","color":"#000","strokeWidth":1,"clip":true},
  "encoding":{"x":{"field":"N","type":"quantitative","scale":{"domain":[15,148],"nice":false,"zero":false},"axis":{"orient":"bottom","values":[20,30,40,50,60,70,80,90,100,110,120,130,140],"title":"Neutron Number N","labelPadding":9,"titlePadding":1,"titleFontSize":16}},
   "y":{"field":"v","type":"quantitative","scale":{"domain":[0,1.46],"nice":false,"zero":false},"axis":{"orient":"left","values":[0,0.2,0.4,0.6,0.8,1.0,1.2,1.4],"format":".1f","title":"δVₚₙ [MeV]","labelPadding":10,"titlePadding":5}},
   "detail":{"field":"s"}}},
 {"data":{"name":"x"},"mark":{"type":"errorbar","color":"#000","thickness":0.8,"ticks":{"size":6},"clip":true},
  "encoding":{"x":{"field":"N","type":"quantitative","axis":null},"y":{"field":"v","type":"quantitative","axis":null},"yError":{"field":"e"}}},
 {"data":{"name":"x"},"mark":{"type":"point","filled":true,"color":"#000","size":12,"opacity":1,"clip":true},
  "encoding":{"x":{"field":"N","type":"quantitative","axis":{"orient":"top","values":[20,30,40,50,60,70,80,90,100,110,120,130,140],"labels":false,"title":null}},
   "y":{"field":"v","type":"quantitative","axis":{"orient":"right","values":[0.2,0.4,0.6,0.8,1.0,1.2,1.4],"labels":false,"title":null}}}},
 {"data":{"values":[{"t":"experiment"}]},"mark":{"type":"text","align":"right","baseline":"top","fontSize":12,"color":"#111"},
  "encoding":{"x":{"datum":145,"type":"quantitative","axis":null},"y":{"datum":1.41,"type":"quantitative","axis":null},"text":{"field":"t"}}},
 {"data":{"values":[{"t":"15"}]},"mark":{"type":"text","align":"right","baseline":"top","dy":5,"fontSize":10.5,"color":"#111"},
  "encoding":{"x":{"datum":150,"type":"quantitative","axis":null},"y":{"datum":0,"type":"quantitative","axis":null},"text":{"field":"t"}}}
],"resolve":{"axis":{"x":"independent","y":"independent"}}}
]
}
